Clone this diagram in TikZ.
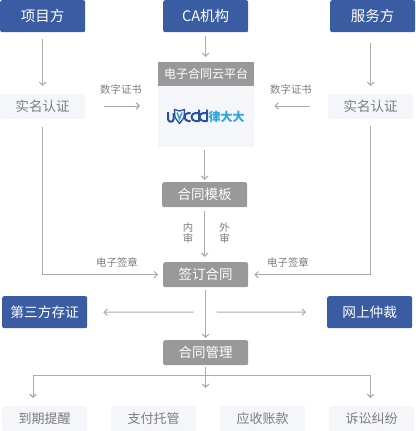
\documentclass[tikz,border=0pt]{standalone}
\usepackage{fontspec}
\setmainfont{Noto Sans CJK SC}
\usetikzlibrary{arrows.meta,calc}
\definecolor{bluebox}{HTML}{3A5CA2}
\definecolor{greybox}{HTML}{999999}
\definecolor{paleBox}{HTML}{F4F6F9}
\definecolor{linegrey}{HTML}{ABABAB}
\definecolor{labelgrey}{HTML}{7C7C7C}
\definecolor{logoblue}{HTML}{27509F}
\definecolor{logocyan}{HTML}{2CA6E0}
\newcommand{\fs}[2][1]{\fontsize{#2}{#2}\selectfont}
\tikzset{
  x=1pt,y=-1pt,
  box/.style={minimum width=85pt,inner sep=0pt,rounded corners=2pt,anchor=north west},
  bluenode/.style={box,fill=bluebox,text=white,minimum height=32pt,font=\fs{14.5}},
  greynode/.style={box,fill=greybox,text=white,minimum height=25pt,font=\fs{13.5}},
  palenode/.style={box,fill=paleBox,text=labelgrey,minimum height=25pt,font=\fs{13.5}},
  link/.style={draw=linegrey,line width=1pt,-{Straight Barb[length=3.2pt,width=6.5pt,line width=1.1pt]}},
  caption/.style={text=labelgrey,font=\fs{10.4},inner sep=0pt,align=center},
  logostroke/.style={draw=logoblue,line width=2pt,line join=round},
}
\begin{document}
\begin{tikzpicture}
\useasboundingbox (0,0) rectangle (415,431);
% top row
\node[bluenode] (proj) at (0,0) {项目方};
\node[bluenode] (ca) at (163,0) {CA机构};
\node[bluenode] (serv) at (330,0) {服务方};
% identity
\node[palenode] (idl) at (0,94) {实名认证};
\node[palenode] (idr) at (328,94) {实名认证};
% platform
\node[box,fill=paleBox,minimum width=96pt,minimum height=85pt,rounded corners=0pt] (plat) at (158,62) {};
\node[box,fill=greybox,text=white,minimum width=96pt,minimum height=24pt,rounded corners=0pt,font=\fs{12}] (plathead) at (158,62) {电子合同云平台};
% logo
\draw[logostroke] (168,112) -- (168,119) arc[start angle=180,end angle=360,radius=2.8pt] -- (173.6,113);
\filldraw[draw=logoblue,fill=white,line width=1.3pt,line join=round] (174.5,109.5) -- (179.5,111) -- (184.5,109.5) -- (184,117.5) -- (179.5,123.5) -- (175,117.5) -- cycle;
\draw[draw=logocyan,line width=1.6pt] (177,112.5) -- (179.5,119) -- (182,112.5);
\draw[logostroke] (190.5,113) -- (188.5,113) arc[start angle=90,end angle=270,radius=4pt] -- (190.5,121);
\draw[logostroke] (199,109.5) -- (199,121) -- (195.5,121) arc[start angle=270,end angle=90,radius=4pt] -- (199,113);
\draw[logostroke] (207,109.5) -- (207,121) -- (203.5,121) arc[start angle=270,end angle=90,radius=4pt] -- (207,113);
\node[inner sep=0pt,text=logocyan,font=\bfseries\fs{12}] (logoc) at (226.5,117) {律大大};
% flow
\node[greynode] (tmpl) at (162,182) {合同模板};
\node[greynode] (sign) at (163,262) {签订合同};
\node[greynode] (mgmt) at (163,340) {合同管理};
\node[bluenode,font=\fs{13.7}] (third) at (2,296) {第三方存证};
\node[bluenode,font=\fs{13.7}] (arb) at (327,296) {网上仲裁};
% bottom
\node[palenode,font=\fs{13}] (b1) at (2,406) {到期提醒};
\node[palenode,font=\fs{13}] (b2) at (111,406) {支付托管};
\node[palenode,font=\fs{13}] (b3) at (220,406) {应收账款};
\node[palenode,font=\fs{13}] (b4) at (329,406) {诉讼纠纷};
% captions
\node[caption] (c1) at (121,90) {数字证书};
\node[caption] (c2) at (291,90) {数字证书};
\node[caption] (c3) at (117,262) {电子签章};
\node[caption] (c4) at (288,262) {电子签章};
\node[caption,font=\fontsize{10.4}{10.4}\selectfont] (c5) at (188,233) {内\\审};
\node[caption,font=\fontsize{10.4}{10.4}\selectfont] (c6) at (224.5,233) {外\\审};
% connectors
\draw[link,shorten <=7pt,shorten >=8pt] (proj.south) -- (idl.north);
\draw[link,shorten <=4pt,shorten >=5pt] (ca.south) -- (ca.south |- plathead.north);
\draw[link,shorten <=11pt,shorten >=8pt] (serv.south -| idr.north) -- (idr.north);
\draw[link,shorten <=19pt,shorten >=18pt] (idl.east |- 0,106) -- (plat.west |- 0,106);
\draw[link,shorten <=18pt,shorten >=20pt] (idr.west |- 0,106) -- (plat.east |- 0,106);
\draw[link,shorten <=3pt,shorten >=2pt] (plat.south -| tmpl.north) -- (tmpl.north);
\draw[link,shorten <=4pt,shorten >=5pt] (tmpl.south) -- (tmpl.south |- sign.north);
\draw[link,shorten <=8pt,shorten >=5pt] (idl.south) |- (sign.west);
\draw[link,shorten <=7pt,shorten >=6pt] (idr.south) |- (sign.east);
\draw[link,shorten <=3pt,shorten >=2pt] (sign.south) -- (mgmt.north);
\coordinate (forkc) at (205.5,312);
\draw[link,shorten <=12pt,shorten >=16pt] (forkc) -- (third.east);
\draw[link,shorten <=11pt,shorten >=21pt] (forkc) -- (arb.west);
\draw[link,shorten <=2pt,shorten >=18pt] (mgmt.south) -- (mgmt.south |- b2.north);
\coordinate (branch) at (205.5,375.5);
\draw[link,shorten >=8pt] (branch) -| (33,406);
\draw[link,shorten >=8pt] (branch) -| (370.5,406);
\end{tikzpicture}
\end{document}
